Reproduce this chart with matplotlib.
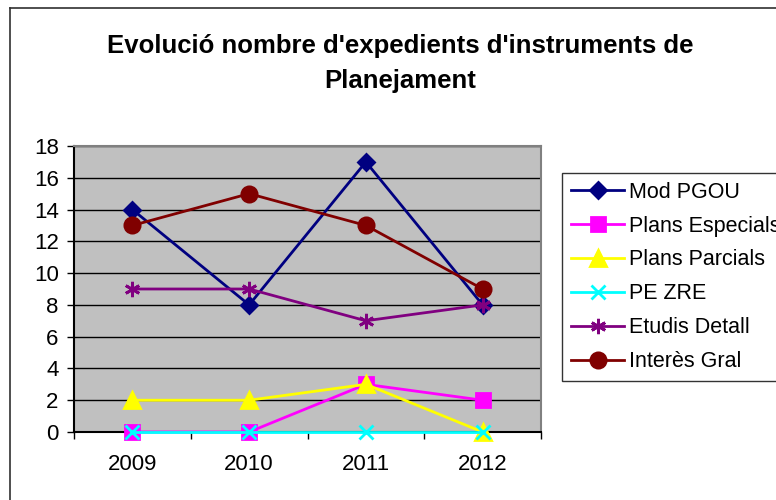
import matplotlib
matplotlib.use('Agg')
import matplotlib.pyplot as plt
from matplotlib.lines import Line2D

plt.rcParams['font.family'] = ['Liberation Sans', 'DejaVu Sans']

# Data
years = ['2009', '2010', '2011', '2012']
mod_pgou = [14, 8, 17, 8]
plans_especials = [0, 0, 3, 2]
plans_parcials = [2, 2, 3, 0]
pe_zre = [0, 0, 0, 0]
etudis_detall = [9, 9, 7, 8]
interes_gral = [13, 15, 13, 9]

series = [
    ('Mod PGOU', mod_pgou, '#000080', 'D', 8.5),
    ('Plans Especials', plans_especials, '#FF00FF', 's', 10),
    ('Plans Parcials', plans_parcials, '#FFFF00', '^', 11),
    ('PE ZRE', pe_zre, '#00FFFF', 'x', 10),
    ('Etudis Detall', etudis_detall, '#800080', (6, 2, 0), 11),
    ('Interès Gral', interes_gral, '#800000', 'o', 11),
]

W, H = 776, 500
fig = plt.figure(figsize=(W / 100, H / 100), dpi=100)
ax = fig.add_axes([74 / W, 1 - 432 / H, (541 - 74) / W, (432 - 146) / H])
ax.set_facecolor('#C0C0C0')

x = list(range(len(years)))
for name, vals, color, marker, ms in series:
    ax.plot(x, vals, color=color, lw=2, marker=marker, markersize=ms,
            markerfacecolor=color, markeredgecolor=color, markeredgewidth=2,
            label=name, clip_on=False, zorder=3)

ax.set_xlim(-0.5, 3.5)
ax.set_ylim(0, 18)
ax.set_yticks(range(0, 19, 2))
ax.yaxis.grid(True, color='black', lw=1)
ax.set_axisbelow(True)
ax.tick_params(axis='y', direction='out', length=5, width=1, pad=6, labelsize=16)

ax.set_xticks(x)
ax.set_xticklabels(years)
ax.tick_params(axis='x', which='major', length=0, pad=16, labelsize=16)
ax.set_xticks([-0.5, 0.5, 1.5, 2.5, 3.5], minor=True)
ax.tick_params(axis='x', which='minor', direction='out', length=5, width=1)

ax.spines['left'].set_color('black')
ax.spines['bottom'].set_color('black')
ax.spines['top'].set_color('#808080')
ax.spines['right'].set_color('#808080')
for s in ax.spines.values():
    s.set_linewidth(1.5)

# legend runs off the right edge, as in the original chart
leg = ax.legend(loc='upper left', bbox_to_anchor=(562 / W, 1 - 173 / H),
                bbox_transform=fig.transFigure, fontsize=15.5, frameon=True,
                fancybox=False, edgecolor='black', handlelength=2.5,
                handletextpad=0.2, labelspacing=0.6, borderpad=0.4,
                borderaxespad=0)
leg.get_frame().set_linewidth(1)

# Title
fig.text(400 / W, 1 - 53 / H, "Evolució nombre d'expedients d'instruments de",
         ha='center', va='baseline', fontsize=18.5, fontweight='bold')
fig.text(400 / W, 1 - 88 / H, 'Planejament',
         ha='center', va='baseline', fontsize=18.5, fontweight='bold')

# chart area border (left and top edges visible)
fig.add_artist(Line2D([10 / W, 10 / W], [0, 1 - 8 / H], transform=fig.transFigure,
                      color='#303030', lw=1.2))
fig.add_artist(Line2D([10 / W, 1], [1 - 8 / H, 1 - 8 / H], transform=fig.transFigure,
                      color='#303030', lw=1.2))

fig.savefig('out.png', dpi=100)
